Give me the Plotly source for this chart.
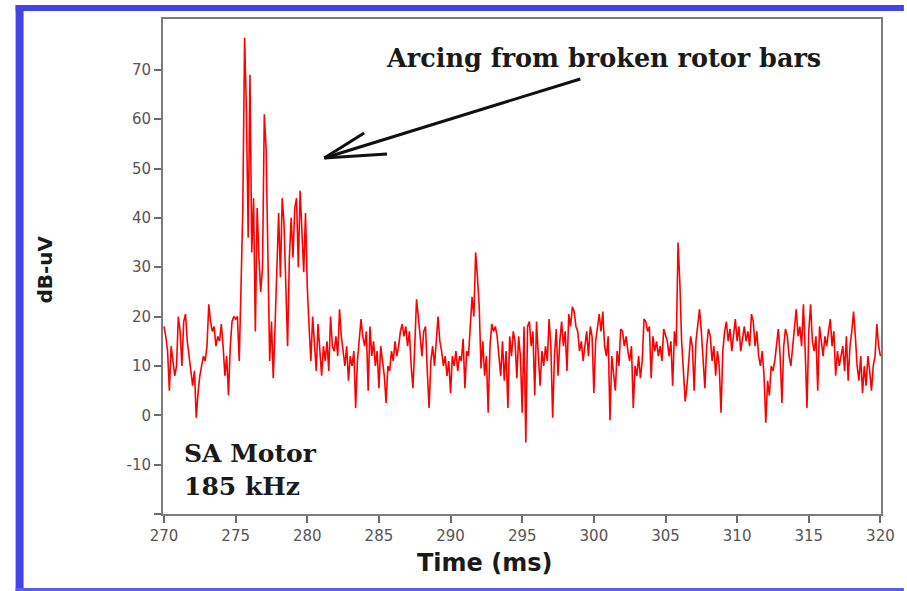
import plotly.graph_objects as go

# ---------------- data ----------------
t_start = 270.0
t_step = 0.125  # ms between samples

signal_db = [
    # 270
    18, 16, 13, 5, 14, 11, 8, 10,
    # 271
    20, 17, 10, 19, 20.5, 15, 12, 8,
    # 272
    6, 9, -0.5, 4.5, 8, 10, 12, 11,
    # 273
    14, 22.5, 19, 17, 18, 14, 16, 15,
    # 274
    18.5, 14, 8, 12, 4, 14, 19, 20,
    # 275
    19.5, 20, 11, 26, 42, 76.5, 62, 36,
    # 276
    69, 33, 44, 17, 42, 32, 25, 30,
    # 277
    61, 54, 30, 11, 19, 7.5, 18, 28,
    # 278
    41, 28, 44, 39, 25, 14, 32, 40,
    # 279
    32, 42, 44, 30, 45.5, 38, 29, 41,
    # 280
    26, 18, 11, 20, 15, 9, 18.5, 12,
    # 281
    8, 14, 11, 15, 9, 20, 14, 13,
    # 282
    16, 12, 21.5, 16, 13, 10, 14, 7,
    # 283
    12, 10, 13, 1.5, 11, 15, 19.5, 16,
    # 284
    14, 17, 5, 18, 12, 15, 10, 13,
    # 285
    5.5, 14, 11, 8, 2.5, 10, 9, 13,
    # 286
    11, 15, 12, 14, 17, 18.5, 16, 18,
    # 287
    14, 17, 10, 5.5, 14, 23.5, 20, 16,
    # 288
    12, 17, 18, 9, 1.5, 11, 14, 10,
    # 289
    16, 20, 15, 13, 10, 12, 8, 11,
    # 290
    4.5, 12, 10, 13, 9, 12, 11, 15.5,
    # 291
    5.5, 13, 12, 18.5, 24, 20, 33, 28,
    # 292
    22, 9.5, 15, 8, 12, 0.5, 14, 18.5,
    # 293
    17, 18, 16, 12, 8, 15, 7, 13,
    # 294
    1.5, 16, 12, 17, 15, 7.5, 16, 12,
    # 295
    0.5, 18, -5.5, 18, 19, 14, 17, 4,
    # 296
    19, 12, 6, 13, 10, 14, 11, 19.5,
    # 297
    14, -0.5, 12, 17.5, 8, 15, 19, 14,
    # 298
    17, 9, 20.5, 18, 22, 21, 18, 17,
    # 299
    13, 15, 11, 14, 17, 12, 18, 16,
    # 300
    4.5, 15, 18, 20.5, 17, 21, 14, 12,
    # 301
    16, -1, 12, 9, 5, 13, 10, 17.5,
    # 302
    17, 14, 16, 13, 11, 14, 1.5, 10,
    # 303
    8, 12, 7.5, 11, 19.5, 19, 17, 18,
    # 304
    7.5, 16, 13, 15, 12, 14, 11, 17.5,
    # 305
    16, 15, 12, 15, 6, 17, 14, 35,
    # 306
    27, 15, 9, 2.8, 6, 12, 16, 14,
    # 307
    5, 15, 18, 21.5, 17, 10, 5.5, 14,
    # 308
    17.5, 16, 11, 14, 8, 13, 10, 0.5,
    # 309
    13, 17, 19, 15, 17.5, 13, 16, 19.5,
    # 310
    15, 18, 13, 16, 18, 15, 17, 14,
    # 311
    20.5, 19, 14, 17, 12, 10, 13, 8,
    # 312
    -1.5, 7, 4, 10, 9, 11, 14, 17.5,
    # 313
    12, 2.5, 14, 17.5, 16, 12, 10, 14,
    # 314
    19, 21.5, 16, 18, 14, 22.5, 13, 1.5,
    # 315
    17, 22.5, 15, 13, 16, 5, 18, 15,
    # 316
    12, 16, 14, 17, 19.5, 14, 17, 8,
    # 317
    13, 10, 12, 14, 9, 16, 7, 14,
    # 318
    17, 21, 16, 10, 7, 12, 4.5, 10,
    # 319
    6, 12, 9, 5, 10, 12, 18.5, 14,
    # 320
    12,
]
time_ms = [t_start + i * t_step for i in range(len(signal_db))]

x_ticks = [270, 275, 280, 285, 290, 295, 300, 305, 310, 315, 320]
y_ticks = [-20, -10, 0, 10, 20, 30, 40, 50, 60, 70]
y_tick_text = ["", "-10", "0", "10", "20", "30", "40", "50", "60", "70"]

x_title = "Time (ms)"
y_title = "dB-uV"
arrow_label = "Arcing from broken rotor bars"
box_label = "SA Motor<br>185 kHz"

# ---------------- layout helpers (pixel -> paper) ----------------
W, H = 907, 591
PL, PR, PT, PB = 163, 884, 19, 514


def px(x):
    return (x - PL) / (PR - PL)


def py(y):
    return (PB - y) / (PB - PT)


fig = go.Figure()
fig.add_trace(go.Scatter(
    x=time_ms, y=signal_db, mode="lines",
    line=dict(color="#ff0000", width=1.6),
    hoverinfo="skip", showlegend=False,
))

axis_common = dict(
    showgrid=False, zeroline=False, showline=True, mirror=True,
    linecolor="#7c7c7c", linewidth=2,
    ticks="outside", ticklen=7, tickwidth=1.5, tickcolor="#6a6a6a",
    tickfont=dict(family="DejaVu Sans", size=15, color="#555555"),
)

fig.update_layout(
    width=W, height=H,
    margin=dict(l=PL, r=W - PR, t=PT, b=H - PB),
    paper_bgcolor="white", plot_bgcolor="white",
    xaxis=dict(range=[269.93, 320.04], tickvals=x_ticks, **axis_common),
    yaxis=dict(range=[-20, 80.3], tickvals=y_ticks, ticktext=y_tick_text,
               **axis_common),
)

shapes = []
blue = "#4343e6"
# outer blue frame
shapes.append(dict(type="rect", xref="paper", yref="paper",
                   x0=px(15), x1=px(23), y0=py(591), y1=py(5),
                   fillcolor=blue, line=dict(width=0)))
shapes.append(dict(type="rect", xref="paper", yref="paper",
                   x0=px(15), x1=px(907), y0=py(11), y1=py(5),
                   fillcolor=blue, line=dict(width=0)))
shapes.append(dict(type="rect", xref="paper", yref="paper",
                   x0=px(15), x1=px(907), y0=py(591), y1=py(588),
                   fillcolor="#5b5bee", line=dict(width=0)))
# hand-drawn arrow
for (xa, ya, xb, yb) in [(582, 79, 325, 158), (325, 158, 365, 133),
                         (325, 158, 388, 154)]:
    shapes.append(dict(type="line", xref="paper", yref="paper",
                       x0=px(xa), y0=py(ya), x1=px(xb), y1=py(yb),
                       line=dict(color="#111111", width=3)))
fig.update_layout(shapes=shapes)

annotations = [
    dict(text=arrow_label, xref="paper", yref="paper", x=px(605), y=py(58),
         xanchor="center", yanchor="middle", showarrow=False,
         font=dict(family="DejaVu Serif", size=25.5, color="#1a1a1a",
                   weight="bold")),
    dict(text=box_label, xref="paper", yref="paper", x=px(182), y=py(470),
         xanchor="left", yanchor="middle", align="left", showarrow=False,
         font=dict(family="DejaVu Serif", size=25, color="#1a1a1a",
                   weight="bold")),
    dict(text=x_title, xref="paper", yref="paper", x=px(486), y=py(563),
         xanchor="center", yanchor="middle", showarrow=False,
         font=dict(family="DejaVu Sans", size=24, color="#1a1a1a",
                   weight="bold")),
    dict(text=y_title, xref="paper", yref="paper", x=px(45), y=py(269),
         xanchor="center", yanchor="middle", showarrow=False, textangle=-90,
         font=dict(family="DejaVu Sans", size=20, color="#1a1a1a",
                   weight="bold")),
]
fig.update_layout(annotations=annotations)

fig.write_html("out.html")
